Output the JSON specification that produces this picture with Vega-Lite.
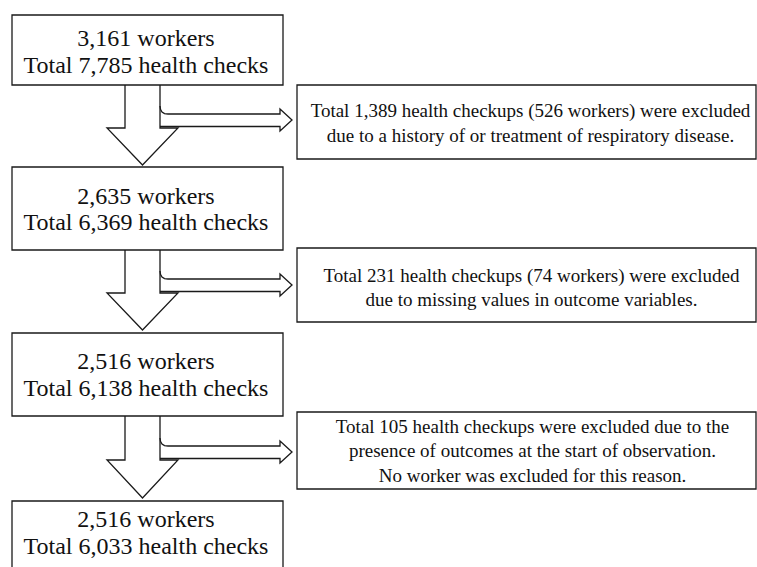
{
  "$schema": "https://vega.github.io/schema/vega-lite/v6.json",
  "width": 757,
  "height": 567,
  "padding": 0,
  "autosize": {"type": "none"},
  "background": "white",
  "config": {"view": {"stroke": null}},
  "datasets": {
    "boxes": [
      {"id": "b1", "x": 12, "x2": 283, "y": 15, "y2": 85},
      {"id": "b2", "x": 12, "x2": 283, "y": 167, "y2": 250},
      {"id": "b3", "x": 12, "x2": 283, "y": 333, "y2": 416},
      {"id": "b4", "x": 12, "x2": 283, "y": 501, "y2": 590},
      {"id": "e1", "x": 297, "x2": 756, "y": 85, "y2": 159},
      {"id": "e2", "x": 297, "x2": 756, "y": 248, "y2": 322},
      {"id": "e3", "x": 297, "x2": 756, "y": 412, "y2": 489}
    ],
    "paths": [
      {"p": "a1", "i": 0, "x": 125, "y": 85},
      {"p": "a1", "i": 1, "x": 125, "y": 128},
      {"p": "a1", "i": 2, "x": 107, "y": 128},
      {"p": "a1", "i": 3, "x": 142.5, "y": 165},
      {"p": "a1", "i": 4, "x": 178, "y": 128},
      {"p": "a1", "i": 5, "x": 160, "y": 128},
      {"p": "a1", "i": 6, "x": 160, "y": 85},
      {"p": "s1", "i": 0, "x": 160, "y": 106},
      {"p": "s1", "i": 1, "x": 160.6, "y": 109.5},
      {"p": "s1", "i": 2, "x": 162, "y": 112},
      {"p": "s1", "i": 3, "x": 164.5, "y": 113.6},
      {"p": "s1", "i": 4, "x": 168, "y": 114},
      {"p": "s1", "i": 5, "x": 280, "y": 114},
      {"p": "s1", "i": 6, "x": 280, "y": 109},
      {"p": "s1", "i": 7, "x": 292, "y": 120},
      {"p": "s1", "i": 8, "x": 280, "y": 131},
      {"p": "s1", "i": 9, "x": 280, "y": 126.5},
      {"p": "s1", "i": 10, "x": 160, "y": 126.5},
      {"p": "a2", "i": 0, "x": 125, "y": 250},
      {"p": "a2", "i": 1, "x": 125, "y": 293},
      {"p": "a2", "i": 2, "x": 107, "y": 293},
      {"p": "a2", "i": 3, "x": 142.5, "y": 330},
      {"p": "a2", "i": 4, "x": 178, "y": 293},
      {"p": "a2", "i": 5, "x": 160, "y": 293},
      {"p": "a2", "i": 6, "x": 160, "y": 250},
      {"p": "s2", "i": 0, "x": 160, "y": 271},
      {"p": "s2", "i": 1, "x": 160.6, "y": 274.5},
      {"p": "s2", "i": 2, "x": 162, "y": 277},
      {"p": "s2", "i": 3, "x": 164.5, "y": 278.6},
      {"p": "s2", "i": 4, "x": 168, "y": 279},
      {"p": "s2", "i": 5, "x": 280, "y": 279},
      {"p": "s2", "i": 6, "x": 280, "y": 274},
      {"p": "s2", "i": 7, "x": 292, "y": 285},
      {"p": "s2", "i": 8, "x": 280, "y": 296},
      {"p": "s2", "i": 9, "x": 280, "y": 291.5},
      {"p": "s2", "i": 10, "x": 160, "y": 291.5},
      {"p": "a3", "i": 0, "x": 125, "y": 416},
      {"p": "a3", "i": 1, "x": 125, "y": 460},
      {"p": "a3", "i": 2, "x": 107, "y": 460},
      {"p": "a3", "i": 3, "x": 142.5, "y": 498},
      {"p": "a3", "i": 4, "x": 178, "y": 460},
      {"p": "a3", "i": 5, "x": 160, "y": 460},
      {"p": "a3", "i": 6, "x": 160, "y": 416},
      {"p": "s3", "i": 0, "x": 160, "y": 438},
      {"p": "s3", "i": 1, "x": 160.6, "y": 441.5},
      {"p": "s3", "i": 2, "x": 162, "y": 444},
      {"p": "s3", "i": 3, "x": 164.5, "y": 445.6},
      {"p": "s3", "i": 4, "x": 168, "y": 446},
      {"p": "s3", "i": 5, "x": 280, "y": 446},
      {"p": "s3", "i": 6, "x": 280, "y": 441},
      {"p": "s3", "i": 7, "x": 292, "y": 452},
      {"p": "s3", "i": 8, "x": 280, "y": 463},
      {"p": "s3", "i": 9, "x": 280, "y": 458.5},
      {"p": "s3", "i": 10, "x": 160, "y": 458.5}
    ],
    "labels": [
      {"kind": "main", "x": 146, "y": 45.5, "text": "3,161 workers"},
      {"kind": "main", "x": 146, "y": 72.5, "text": "Total 7,785 health checks"},
      {"kind": "main", "x": 146, "y": 204, "text": "2,635 workers"},
      {"kind": "main", "x": 146, "y": 230, "text": "Total 6,369 health checks"},
      {"kind": "main", "x": 146, "y": 369, "text": "2,516 workers"},
      {"kind": "main", "x": 146, "y": 396, "text": "Total 6,138 health checks"},
      {"kind": "main", "x": 146, "y": 527, "text": "2,516 workers"},
      {"kind": "main", "x": 146, "y": 554, "text": "Total 6,033 health checks"},
      {"kind": "note", "x": 530.5, "y": 117.3, "text": "Total 1,389 health checkups (526 workers) were excluded"},
      {"kind": "note", "x": 530.5, "y": 141.7, "text": "due to a history of or treatment of respiratory disease."},
      {"kind": "note", "x": 531.5, "y": 282, "text": "Total 231 health checkups (74 workers) were excluded"},
      {"kind": "note", "x": 531.5, "y": 305.5, "text": "due to missing values in outcome variables."},
      {"kind": "note", "x": 532.5, "y": 432.7, "text": "Total 105 health checkups were excluded due to the"},
      {"kind": "note", "x": 532.5, "y": 457, "text": "presence of outcomes at the start of observation."},
      {"kind": "note", "x": 532.5, "y": 481.7, "text": "No worker was excluded for this reason."}
    ]
  },
  "layer": [
    {
      "data": {"name": "boxes"},
      "mark": {"type": "rect", "fill": "white", "stroke": "#1a1a1a", "strokeWidth": 1.3, "clip": true},
      "encoding": {
        "x": {"field": "x", "type": "quantitative", "scale": {"domain": [0, 757], "nice": false, "zero": false}, "axis": null},
        "x2": {"field": "x2"},
        "y": {"field": "y", "type": "quantitative", "scale": {"domain": [0, 567], "nice": false, "zero": false, "reverse": true}, "axis": null},
        "y2": {"field": "y2"}
      }
    },
    {
      "data": {"name": "paths"},
      "mark": {"type": "line", "color": "#1a1a1a", "strokeWidth": 1.3, "strokeJoin": "miter"},
      "encoding": {
        "x": {"field": "x", "type": "quantitative"},
        "y": {"field": "y", "type": "quantitative"},
        "detail": {"field": "p"},
        "order": {"field": "i", "type": "quantitative"}
      }
    },
    {
      "data": {"name": "labels"},
      "transform": [{"filter": "datum.kind === 'main'"}],
      "mark": {"type": "text", "font": "Liberation Serif", "fontSize": 24, "align": "center", "baseline": "alphabetic", "color": "#111"},
      "encoding": {
        "x": {"field": "x", "type": "quantitative"},
        "y": {"field": "y", "type": "quantitative"},
        "text": {"field": "text"}
      }
    },
    {
      "data": {"name": "labels"},
      "transform": [{"filter": "datum.kind === 'note'"}],
      "mark": {"type": "text", "font": "Liberation Serif", "fontSize": 19, "align": "center", "baseline": "alphabetic", "color": "#111"},
      "encoding": {
        "x": {"field": "x", "type": "quantitative"},
        "y": {"field": "y", "type": "quantitative"},
        "text": {"field": "text"}
      }
    }
  ]
}
